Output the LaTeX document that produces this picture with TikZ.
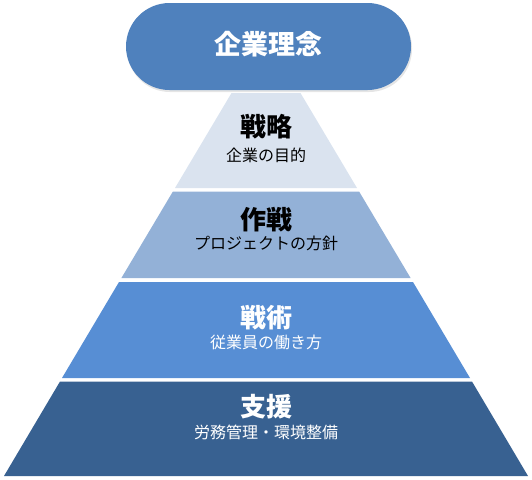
\documentclass[tikz,border=0pt]{standalone}
\usepackage{fontspec}
\newfontfamily\jp{Noto Sans CJK JP}
\definecolor{cTop}{HTML}{4F81BD}
\definecolor{cB1}{HTML}{DAE3EF}
\definecolor{cB2}{HTML}{93B1D7}
\definecolor{cB3}{HTML}{578ED4}
\definecolor{cB4}{HTML}{386191}
\tikzset{
  ttl/.style={font=\jp\bfseries\fontsize{26}{30}\selectfont, inner sep=0pt, anchor=center},
  bigttl/.style={font=\jp\bfseries\fontsize{27}{31}\selectfont, inner sep=0pt, anchor=center},
  sub/.style={font=\jp\fontsize{16}{19}\selectfont, inner sep=0pt, anchor=center},
}
\begin{document}
\begin{tikzpicture}[x=1pt,y=-1pt]
\useasboundingbox (0,0) rectangle (532,479);
% pyramid bands: center x = 266, half width = 0.595*(y-35)
\fill[cB1] (266-34.5,93) -- (266+34.5,93) -- (266+91,188) -- (266-91,188) -- cycle;
\fill[cB2] (266-93.1,191.5) -- (266+93.1,191.5) -- (266+144.6,278) -- (266-144.6,278) -- cycle;
\fill[cB3] (266-147,282) -- (266+147,282) -- (266+204,378) -- (266-204,378) -- cycle;
\fill[cB4] (266-206,381.5) -- (266+206,381.5) -- (266+262,476) -- (266-262,476) -- cycle;
% top stadium
\fill[black!25, opacity=0.4, rounded corners=43pt] (127,5) rectangle (412,92);
\fill[cTop, rounded corners=43.5pt] (126,3) rectangle (411,90);
\node[bigttl, text=white] (rinen) at (268.5,44) {企業理念};
\node[ttl, text=black] (t1) at (266,127) {戦略};
\node[sub, text=black] (s1) at (266,155) {企業の目的};
\node[ttl, text=black] (t2) at (266,220) {作戦};
\node[sub, text=black] (s2) at (266,243) {プロジェクトの方針};
\node[ttl, text=white] (t3) at (266,318) {戦術};
\node[sub, text=white] (s3) at (266,342) {従業員の働き方};
\node[ttl, text=white] (t4) at (266,407) {支援};
\node[sub, text=white] (s4) at (266,432) {労務管理・環境整備};
\end{tikzpicture}
\end{document}
